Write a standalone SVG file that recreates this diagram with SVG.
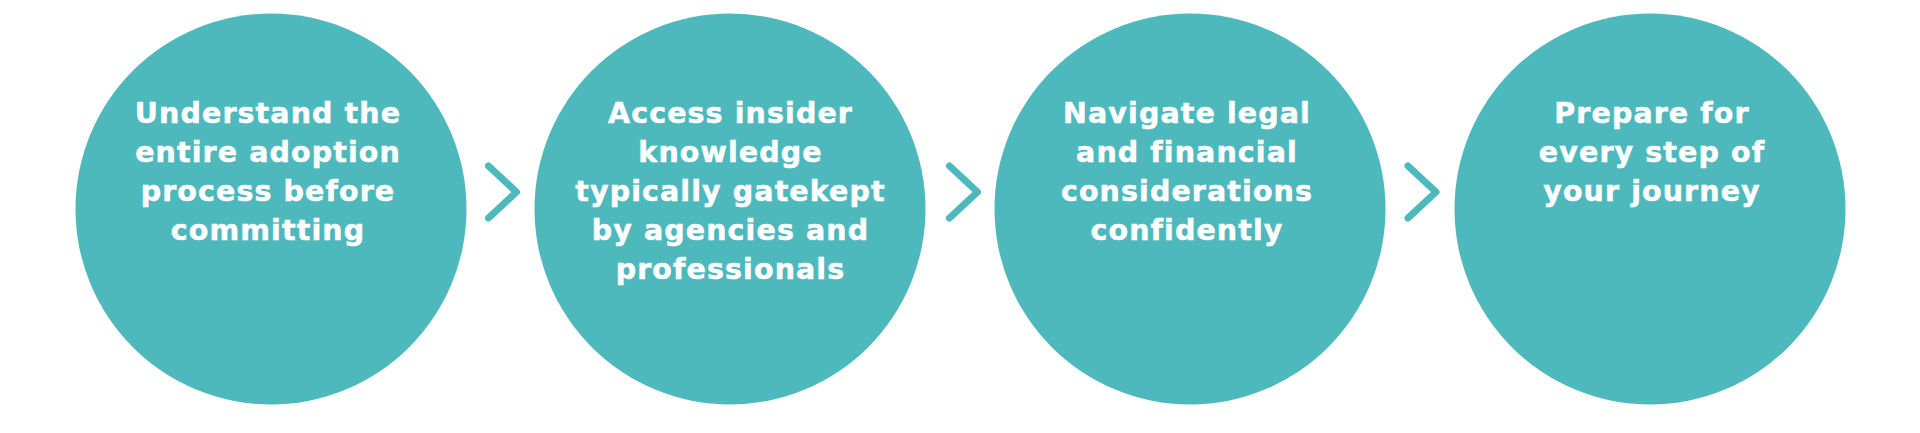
<svg xmlns="http://www.w3.org/2000/svg" width="1920" height="433" viewBox="0 0 1920 433">
  <style>
    .node { fill: #4EB9BC; }
    .label { font-family: "DejaVu Sans", "Liberation Sans", sans-serif; font-weight: bold; font-size: 28.5px; fill: #FFFFFF; stroke: #FFFFFF; stroke-width: 0.5px; text-anchor: middle; letter-spacing: 1.1px; }
    .chev { fill: none; stroke: #4EB9BC; stroke-width: 7; stroke-linecap: round; stroke-linejoin: round; }
  </style>
  <rect width="1920" height="433" fill="#FFFFFF"/>
  <g id="connectors">
    <polyline class="chev" points="488.5,166 516.5,192 488.5,218"/>
    <polyline class="chev" points="949.5,166 977.5,192 949.5,218"/>
    <polyline class="chev" points="1408,166 1436,192 1408,218"/>
  </g>
  <g id="node1">
    <circle class="node" cx="271" cy="209" r="195.5"/>
    <text class="label"><tspan x="268" y="122.5">Understand the</tspan><tspan x="268" y="161.5">entire adoption</tspan><tspan x="268" y="200.5">process before</tspan><tspan x="268" y="239.5">committing</tspan></text>
  </g>
  <g id="node2">
    <circle class="node" cx="730" cy="209" r="195.5"/>
    <text class="label"><tspan x="730.5" y="122.5">Access insider</tspan><tspan x="730.5" y="161.5">knowledge</tspan><tspan x="730.5" y="200.5">typically gatekept</tspan><tspan x="730.5" y="239.5">by agencies and</tspan><tspan x="730.5" y="278.5">professionals</tspan></text>
  </g>
  <g id="node3">
    <circle class="node" cx="1190" cy="209" r="195.5"/>
    <text class="label"><tspan x="1187" y="122.5">Navigate legal</tspan><tspan x="1187" y="161.5">and financial</tspan><tspan x="1187" y="200.5">considerations</tspan><tspan x="1187" y="239.5">confidently</tspan></text>
  </g>
  <g id="node4">
    <circle class="node" cx="1650" cy="209" r="195.5"/>
    <text class="label"><tspan x="1652" y="122.5">Prepare for</tspan><tspan x="1652" y="161.5">every step of</tspan><tspan x="1652" y="200.5">your journey</tspan></text>
  </g>
</svg>
